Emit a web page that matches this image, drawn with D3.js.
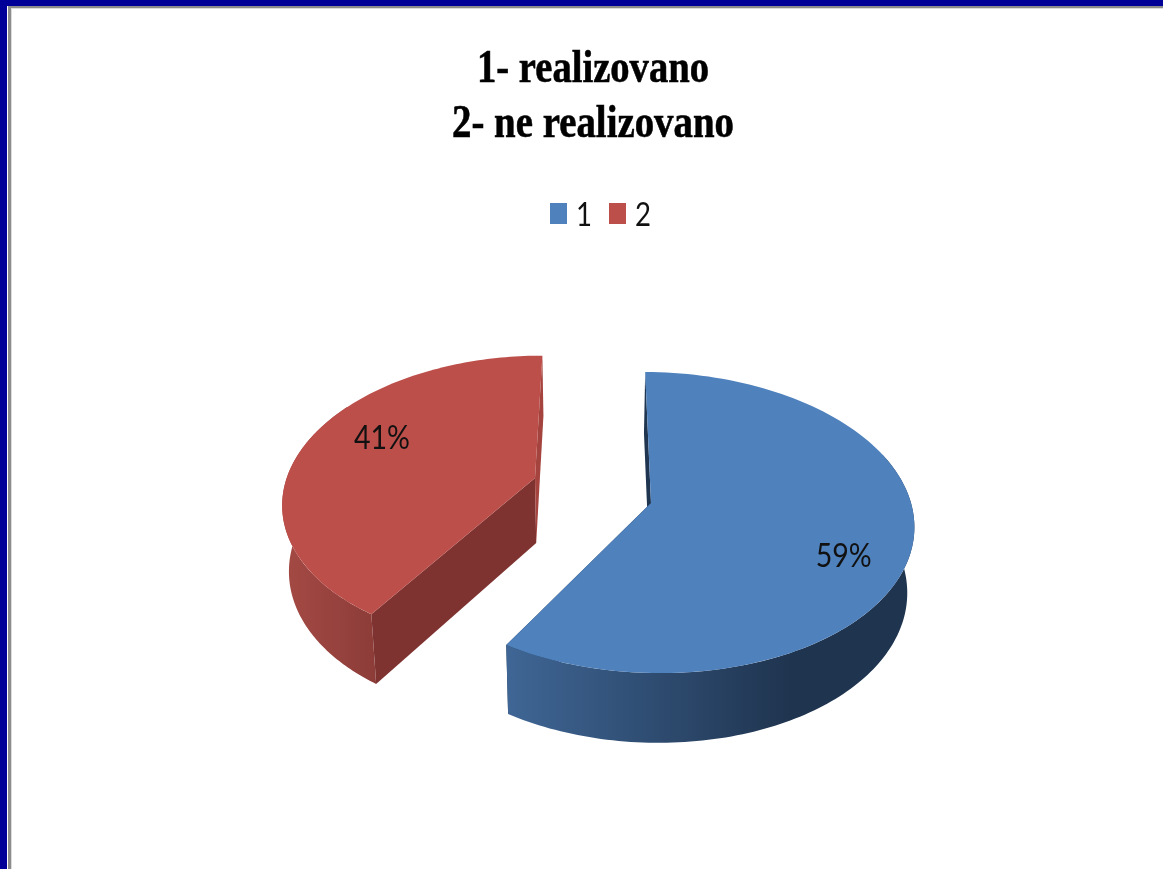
<!DOCTYPE html>
<html>

<head>
  <title>1- realizovano 2- ne realizovano</title>
  <meta charset="utf-8">
  <script src="https://d3js.org/d3.v7.min.js"></script>
  <style>
    html, body { margin: 0; padding: 0; background: #fff; }
    svg { display: block; }
    .chart { filter: blur(0.6px); }
    .title { font-family: "Liberation Serif", serif; font-weight: bold; font-size: 46px; fill: #000; stroke: #000; stroke-width: 0.6px; }
    .lbl { font-family: Lato, sans-serif; font-size: 33px; fill: #111; }
  </style>
</head>

<body>
  <svg width="1163" height="869"></svg>
  <script>
    var categories = ["1", "2"];
    var values = [59, 41];
    var titleLines = ["1- realizovano", "2- ne realizovano"];

    var rad = Math.PI / 180;

    // 3d look: plane seen in perspective, lines run to a vanishing point
    var vanishX = 590, radX = 260, radY = 148, depth = 65, shrink = 0.978;

    var looks = [
      { top: "#4f81bd", edge: "#1f3550", inner: "#1f3550", ramp: ["#3f6695", "#1f344f"], stop: "70%",
        persp: 0.13, offX: 61, apexY: 503, size: 1, startFix: 0.3, endFix: -1, wallFrom: 70,
        labelR: 0.74, labelDx: 1, labelDy: 33, labelW: 56 },
      { top: "#bd4f4b", edge: "#a5443f", inner: "#7f3331", ramp: ["#a54a45", "#8c3c38"], stop: "100%",
        persp: 0.155, offX: -55, apexY: 478, size: 0.955, startFix: 0.6, endFix: 0, wallFrom: null,
        labelR: 0.7, labelDx: 7, labelDy: -2, labelW: 56 }
    ];

    var svg = d3.select("svg");

    // window frame
    svg.append("rect").attr("width", 1163).attr("height", 6).attr("fill", "#000099");
    svg.append("rect").attr("width", 7).attr("height", 869).attr("fill", "#000099");
    svg.append("rect").attr("x", 8).attr("y", 6).attr("width", 3).attr("height", 863).attr("fill", "#8c8c8c");
    svg.append("rect").attr("x", 8).attr("y", 6).attr("width", 1155).attr("height", 2).attr("fill", "#8c8c8c");
    svg.append("rect").attr("x", 11).attr("y", 8).attr("width", 1152).attr("height", 1).attr("fill", "#dcdcdc");
    svg.append("rect").attr("x", 11).attr("y", 8).attr("width", 1).attr("height", 861).attr("fill", "#dcdcdc");

    var chart = svg.append("g").attr("class", "chart");
    var defs = svg.append("defs");

    // title
    chart.selectAll(".title")
      .data(titleLines)
      .enter()
      .append("text")
      .attr("class", "title")
      .attr("x", 593)
      .attr("y", function(d, i) { return 82 + i * 55; })
      .attr("text-anchor", "middle")
      .attr("textLength", function(d, i) { return i ? 282 : 232; })
      .attr("lengthAdjust", "spacingAndGlyphs")
      .text(function(d) { return d; });

    // legend
    var legend = chart.selectAll(".key")
      .data(categories)
      .enter()
      .append("g")
      .attr("class", "key")
      .attr("transform", function(d, i) { return "translate(" + (550 + i * 59) + ",203)"; });
    legend.append("rect")
      .attr("width", 17)
      .attr("height", 21)
      .attr("fill", function(d, i) { return looks[i].top; });
    legend.append("text")
      .attr("class", "lbl")
      .attr("x", 26)
      .attr("y", 23)
      .attr("textLength", 16)
      .attr("lengthAdjust", "spacingAndGlyphs")
      .text(function(d) { return d; });

    // pie
    var pie = d3.pie().sort(null).startAngle(0).endAngle(2 * Math.PI);
    var arcs = pie(values);
    var total = d3.sum(values);
    var line = d3.line();

    // angle in degrees clockwise from the back of the plate, r 0..1
    function project(look, deg, r, lower) {
      var u = Math.sin(deg * rad) * r, v = -Math.cos(deg * rad) * r;
      var w = 1 - look.persp * v;
      var x = (look.offX + radX * look.size * u) / w;
      var y = look.apexY + radY * look.size * v / w;
      if (lower) {
        x *= shrink;
        y += depth / Math.sqrt(w);
      }
      return [vanishX + x, y];
    }

    function rim(look, a, b, lower) {
      var n = 120;
      return d3.range(n + 1).map(function(i) {
        return project(look, a + (b - a) * i / n, 1, lower);
      });
    }

    function face(points) {
      return line(points) + "Z";
    }

    var slices = chart.selectAll(".slice")
      .data(arcs)
      .enter()
      .append("g")
      .attr("class", "slice");

    slices.each(function(d, i) {
      var look = looks[i], g = d3.select(this);
      var a = d.startAngle / rad + look.startFix, b = d.endAngle / rad + look.endFix;

      var grad = defs.append("linearGradient").attr("id", "ramp" + i);
      grad.append("stop").attr("offset", "0%").attr("stop-color", look.ramp[0]);
      grad.append("stop").attr("offset", look.stop).attr("stop-color", look.ramp[1]);

      // the two cut walls
      [a, b].forEach(function(deg, j) {
        g.append("path")
          .attr("d", face([
            project(look, deg, 1, false), project(look, deg, 0, false),
            project(look, deg, 0, true), project(look, deg, 1, true)
          ]))
          .attr("fill", j === 0 ? look.inner : look.edge);
      });

      // outer wall, only the part that faces the viewer
      var from = i === 0 ? look.wallFrom : a, to = i === 0 ? b : a + 90;
      g.append("path")
        .attr("d", face(rim(look, from, to, false).concat(rim(look, from, to, true).reverse())))
        .attr("fill", "url(#ramp" + i + ")");

      // top of the slice
      g.append("path")
        .attr("d", face([project(look, a, 0, false)].concat(rim(look, a, b, false))))
        .attr("fill", look.top);

      var mid = project(look, (a + b) / 2, look.labelR, false);
      g.append("text")
        .attr("class", "lbl")
        .attr("x", mid[0] + look.labelDx)
        .attr("y", mid[1] + look.labelDy)
        .attr("text-anchor", "middle")
        .attr("textLength", look.labelW)
        .attr("lengthAdjust", "spacingAndGlyphs")
        .text(d3.format(".0%")(d.value / total));
    });
  </script>
</body>

</html>
